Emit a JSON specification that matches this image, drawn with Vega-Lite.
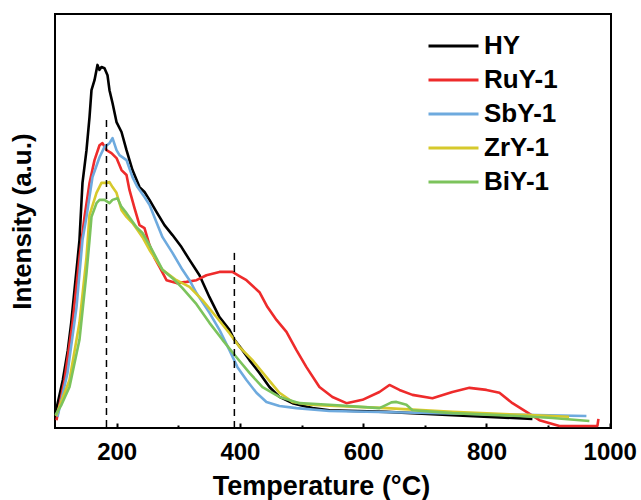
{
  "$schema": "https://vega.github.io/schema/vega-lite/v6.json",
  "width": 556,
  "height": 414,
  "autosize": "none",
  "padding": {"left": 55, "top": 14, "right": 30, "bottom": 72},
  "background": "white",
  "config": {
    "font": "Liberation Sans",
    "view": {"stroke": "black", "strokeWidth": 2}
  },
  "datasets": {
    "curves": [
      {"s":"HY","T":100.8,"I":3.6},{"s":"HY","T":112.7,"I":11.6},{"s":"HY","T":120.8,"I":18.8},{"s":"HY","T":126.3,"I":25.4},{"s":"HY","T":131.6,"I":33.3},{"s":"HY","T":137.0,"I":41.3},{"s":"HY","T":139.7,"I":45.4},{"s":"HY","T":144.6,"I":59.2},{"s":"HY","T":151.1,"I":67.1},{"s":"HY","T":156.0,"I":75.1},{"s":"HY","T":159.2,"I":81.6},{"s":"HY","T":164.1,"I":84.0},{"s":"HY","T":168.9,"I":87.7},{"s":"HY","T":172.2,"I":86.5},{"s":"HY","T":175.4,"I":87.2},{"s":"HY","T":180.3,"I":86.9},{"s":"HY","T":185.2,"I":85.2},{"s":"HY","T":188.4,"I":81.6},{"s":"HY","T":193.3,"I":78.5},{"s":"HY","T":199.8,"I":73.9},{"s":"HY","T":207.9,"I":71.5},{"s":"HY","T":216.0,"I":67.1},{"s":"HY","T":225.7,"I":62.3},{"s":"HY","T":237.1,"I":58.2},{"s":"HY","T":245.2,"I":57.0},{"s":"HY","T":253.3,"I":55.1},{"s":"HY","T":264.6,"I":52.2},{"s":"HY","T":277.6,"I":49.0},{"s":"HY","T":290.6,"I":46.6},{"s":"HY","T":305.2,"I":43.7},{"s":"HY","T":318.2,"I":40.6},{"s":"HY","T":334.4,"I":36.9},{"s":"HY","T":350.6,"I":31.6},{"s":"HY","T":366.8,"I":26.8},{"s":"HY","T":383.0,"I":23.7},{"s":"HY","T":391.1,"I":21.3},{"s":"HY","T":404.1,"I":18.8},{"s":"HY","T":415.5,"I":16.4},{"s":"HY","T":431.7,"I":13.3},{"s":"HY","T":447.9,"I":9.9},{"s":"HY","T":464.1,"I":7.5},{"s":"HY","T":485.2,"I":6.0},{"s":"HY","T":517.7,"I":4.8},{"s":"HY","T":545.2,"I":4.3},{"s":"HY","T":637.6,"I":3.9},{"s":"HY","T":744.7,"I":3.1},{"s":"HY","T":874.5,"I":2.2},
      {"s":"RuY-1","T":102.4,"I":1.9},{"s":"RuY-1","T":115.4,"I":11.6},{"s":"RuY-1","T":128.4,"I":25.4},{"s":"RuY-1","T":139.7,"I":41.3},{"s":"RuY-1","T":147.8,"I":50.9},{"s":"RuY-1","T":156.0,"I":59.2},{"s":"RuY-1","T":164.1,"I":64.7},{"s":"RuY-1","T":172.2,"I":68.3},{"s":"RuY-1","T":177.0,"I":68.8},{"s":"RuY-1","T":183.5,"I":67.1},{"s":"RuY-1","T":191.6,"I":66.4},{"s":"RuY-1","T":199.8,"I":65.2},{"s":"RuY-1","T":207.9,"I":62.3},{"s":"RuY-1","T":216.0,"I":61.1},{"s":"RuY-1","T":220.8,"I":57.5},{"s":"RuY-1","T":229.0,"I":53.1},{"s":"RuY-1","T":237.1,"I":49.0},{"s":"RuY-1","T":245.2,"I":48.3},{"s":"RuY-1","T":253.3,"I":44.2},{"s":"RuY-1","T":261.4,"I":41.1},{"s":"RuY-1","T":269.5,"I":38.9},{"s":"RuY-1","T":280.9,"I":35.7},{"s":"RuY-1","T":297.1,"I":35.0},{"s":"RuY-1","T":313.3,"I":35.3},{"s":"RuY-1","T":329.5,"I":35.7},{"s":"RuY-1","T":345.7,"I":36.9},{"s":"RuY-1","T":366.8,"I":37.7},{"s":"RuY-1","T":387.8,"I":37.7},{"s":"RuY-1","T":399.2,"I":36.7},{"s":"RuY-1","T":410.6,"I":35.7},{"s":"RuY-1","T":431.7,"I":32.8},{"s":"RuY-1","T":444.7,"I":29.2},{"s":"RuY-1","T":459.3,"I":26.1},{"s":"RuY-1","T":475.5,"I":23.2},{"s":"RuY-1","T":491.7,"I":18.8},{"s":"RuY-1","T":507.9,"I":14.7},{"s":"RuY-1","T":529.0,"I":9.9},{"s":"RuY-1","T":550.1,"I":7.5},{"s":"RuY-1","T":572.8,"I":6.0},{"s":"RuY-1","T":598.8,"I":6.8},{"s":"RuY-1","T":626.3,"I":8.7},{"s":"RuY-1","T":642.6,"I":10.4},{"s":"RuY-1","T":658.8,"I":9.2},{"s":"RuY-1","T":679.9,"I":8.0},{"s":"RuY-1","T":712.3,"I":7.2},{"s":"RuY-1","T":744.7,"I":8.7},{"s":"RuY-1","T":772.3,"I":9.7},{"s":"RuY-1","T":799.9,"I":9.2},{"s":"RuY-1","T":821.0,"I":8.5},{"s":"RuY-1","T":842.1,"I":6.0},{"s":"RuY-1","T":864.8,"I":3.9},{"s":"RuY-1","T":885.9,"I":1.9},{"s":"RuY-1","T":918.3,"I":0.5},{"s":"RuY-1","T":980.0,"I":0.5},{"s":"RuY-1","T":981.6,"I":2.2},
      {"s":"SbY-1","T":104.1,"I":2.7},{"s":"SbY-1","T":120.3,"I":13.3},{"s":"SbY-1","T":134.9,"I":29.2},{"s":"SbY-1","T":144.6,"I":45.4},{"s":"SbY-1","T":151.1,"I":51.0},{"s":"SbY-1","T":160.8,"I":60.6},{"s":"SbY-1","T":172.2,"I":65.4},{"s":"SbY-1","T":180.3,"I":67.9},{"s":"SbY-1","T":188.4,"I":68.8},{"s":"SbY-1","T":193.3,"I":70.0},{"s":"SbY-1","T":199.8,"I":67.1},{"s":"SbY-1","T":204.6,"I":65.9},{"s":"SbY-1","T":216.0,"I":64.7},{"s":"SbY-1","T":225.7,"I":60.6},{"s":"SbY-1","T":233.8,"I":58.2},{"s":"SbY-1","T":245.2,"I":55.8},{"s":"SbY-1","T":253.3,"I":53.9},{"s":"SbY-1","T":264.6,"I":49.7},{"s":"SbY-1","T":274.4,"I":46.1},{"s":"SbY-1","T":290.6,"I":42.3},{"s":"SbY-1","T":306.8,"I":38.2},{"s":"SbY-1","T":318.2,"I":35.7},{"s":"SbY-1","T":329.5,"I":32.6},{"s":"SbY-1","T":350.6,"I":27.8},{"s":"SbY-1","T":366.8,"I":23.7},{"s":"SbY-1","T":383.0,"I":18.8},{"s":"SbY-1","T":396.0,"I":14.7},{"s":"SbY-1","T":410.6,"I":11.6},{"s":"SbY-1","T":426.8,"I":8.5},{"s":"SbY-1","T":443.0,"I":6.3},{"s":"SbY-1","T":464.1,"I":5.3},{"s":"SbY-1","T":491.7,"I":4.8},{"s":"SbY-1","T":545.2,"I":4.1},{"s":"SbY-1","T":744.7,"I":3.5},{"s":"SbY-1","T":881.0,"I":3.1},{"s":"SbY-1","T":962.1,"I":2.9},
      {"s":"ZrY-1","T":101.5,"I":2.9},{"s":"ZrY-1","T":123.5,"I":11.6},{"s":"ZrY-1","T":139.7,"I":25.4},{"s":"ZrY-1","T":151.1,"I":41.3},{"s":"ZrY-1","T":156.0,"I":51.4},{"s":"ZrY-1","T":167.3,"I":56.8},{"s":"ZrY-1","T":175.4,"I":59.2},{"s":"ZrY-1","T":183.5,"I":59.2},{"s":"ZrY-1","T":188.4,"I":59.4},{"s":"ZrY-1","T":193.3,"I":58.2},{"s":"ZrY-1","T":199.8,"I":56.8},{"s":"ZrY-1","T":207.9,"I":52.6},{"s":"ZrY-1","T":216.0,"I":51.0},{"s":"ZrY-1","T":225.7,"I":49.5},{"s":"ZrY-1","T":233.8,"I":47.8},{"s":"ZrY-1","T":241.9,"I":46.1},{"s":"ZrY-1","T":253.3,"I":43.0},{"s":"ZrY-1","T":274.4,"I":38.2},{"s":"ZrY-1","T":297.1,"I":35.7},{"s":"ZrY-1","T":318.2,"I":34.1},{"s":"ZrY-1","T":339.2,"I":30.9},{"s":"ZrY-1","T":361.9,"I":26.8},{"s":"ZrY-1","T":383.0,"I":22.9},{"s":"ZrY-1","T":399.2,"I":19.6},{"s":"ZrY-1","T":420.3,"I":16.4},{"s":"ZrY-1","T":443.0,"I":12.3},{"s":"ZrY-1","T":464.1,"I":8.5},{"s":"ZrY-1","T":485.2,"I":6.3},{"s":"ZrY-1","T":512.8,"I":5.6},{"s":"ZrY-1","T":545.2,"I":5.4},{"s":"ZrY-1","T":637.6,"I":4.8},{"s":"ZrY-1","T":744.7,"I":3.9},{"s":"ZrY-1","T":869.6,"I":3.1},{"s":"ZrY-1","T":934.0,"I":2.7},
      {"s":"BiY-1","T":100.8,"I":3.1},{"s":"BiY-1","T":110.5,"I":5.6},{"s":"BiY-1","T":123.5,"I":9.9},{"s":"BiY-1","T":139.7,"I":21.3},{"s":"BiY-1","T":151.1,"I":37.4},{"s":"BiY-1","T":156.0,"I":45.4},{"s":"BiY-1","T":159.2,"I":51.0},{"s":"BiY-1","T":167.3,"I":54.3},{"s":"BiY-1","T":172.2,"I":55.1},{"s":"BiY-1","T":180.3,"I":55.1},{"s":"BiY-1","T":188.4,"I":54.3},{"s":"BiY-1","T":193.3,"I":55.1},{"s":"BiY-1","T":201.4,"I":55.5},{"s":"BiY-1","T":207.9,"I":53.4},{"s":"BiY-1","T":216.0,"I":51.9},{"s":"BiY-1","T":224.1,"I":50.2},{"s":"BiY-1","T":232.2,"I":48.5},{"s":"BiY-1","T":241.9,"I":47.1},{"s":"BiY-1","T":253.3,"I":44.2},{"s":"BiY-1","T":274.4,"I":38.2},{"s":"BiY-1","T":290.6,"I":36.2},{"s":"BiY-1","T":306.8,"I":33.8},{"s":"BiY-1","T":329.5,"I":29.9},{"s":"BiY-1","T":350.6,"I":25.4},{"s":"BiY-1","T":371.7,"I":21.3},{"s":"BiY-1","T":394.4,"I":17.1},{"s":"BiY-1","T":415.5,"I":13.3},{"s":"BiY-1","T":436.6,"I":9.9},{"s":"BiY-1","T":464.1,"I":7.5},{"s":"BiY-1","T":496.6,"I":6.0},{"s":"BiY-1","T":545.2,"I":5.6},{"s":"BiY-1","T":626.3,"I":4.8},{"s":"BiY-1","T":637.6,"I":5.6},{"s":"BiY-1","T":645.8,"I":6.2},{"s":"BiY-1","T":653.9,"I":6.3},{"s":"BiY-1","T":670.1,"I":5.6},{"s":"BiY-1","T":679.9,"I":4.3},{"s":"BiY-1","T":744.7,"I":3.6},{"s":"BiY-1","T":853.4,"I":2.9},{"s":"BiY-1","T":906.9,"I":2.4},{"s":"BiY-1","T":966.9,"I":1.7}
    ],
    "peaks": [
      {"T": 183.5, "top": 74.4, "base": 0},
      {"T": 391, "top": 42.3, "base": 0}
    ]
  },
  "layer": [
    {
      "data": {"name": "curves"},
      "mark": {"type": "line", "strokeWidth": 2.6, "strokeJoin": "round"},
      "encoding": {
        "x": {
          "field": "T", "type": "quantitative",
          "scale": {"domain": [100, 1002], "nice": false, "zero": false},
          "axis": {
            "orient": "bottom",
            "values": [200, 400, 600, 800, 1000],
            "format": "d",
            "grid": false, "domain": false,
            "tickSize": -5, "tickWidth": 2, "tickColor": "black",
            "labelFontSize": 24, "labelFontWeight": "bold", "labelColor": "black",
            "labelPadding": 17, "labelFlush": false,
            "title": "Temperature (°C)",
            "titleFontSize": 27, "titleFontWeight": "bold", "titleColor": "black",
            "titlePadding": 9,
            "titleX": 266
          }
        },
        "y": {
          "field": "I", "type": "quantitative",
          "scale": {"domain": [0, 100], "nice": false},
          "axis": {
            "ticks": false, "labels": false, "domain": false, "grid": false,
            "title": "Intensity (a.u.)",
            "titleFontSize": 26, "titleFontWeight": "bold", "titleColor": "black",
            "titlePadding": 20
          }
        },
        "color": {
          "field": "s", "type": "nominal",
          "scale": {
            "domain": ["HY", "RuY-1", "SbY-1", "ZrY-1", "BiY-1"],
            "range": ["#000000", "#ee2b2b", "#6eaade", "#d6c92c", "#7cc35c"]
          },
          "legend": {
            "title": null,
            "orient": "none",
            "legendX": 372,
            "legendY": 17,
            "padding": 0,
            "symbolType": "stroke",
            "symbolSize": 2500,
            "symbolStrokeWidth": 3,
            "labelFontSize": 26,
            "labelFontWeight": "bold",
            "labelColor": "black",
            "labelOffset": 4,
            "clipHeight": 30,
            "rowPadding": 4
          }
        }
      }
    },
    {
      "data": {"name": "peaks"},
      "mark": {"type": "rule", "color": "black", "strokeWidth": 1.5, "strokeDash": [7, 5]},
      "encoding": {
        "x": {
          "field": "T", "type": "quantitative",
          "axis": {
            "orient": "bottom",
            "values": [300, 500, 700, 900],
            "grid": false, "domain": false, "labels": false,
            "tickSize": -3, "tickWidth": 2, "tickColor": "black",
            "title": null
          }
        },
        "y": {"field": "top", "type": "quantitative"},
        "y2": {"field": "base"}
      }
    }
  ],
  "resolve": {"axis": {"x": "independent"}}
}
